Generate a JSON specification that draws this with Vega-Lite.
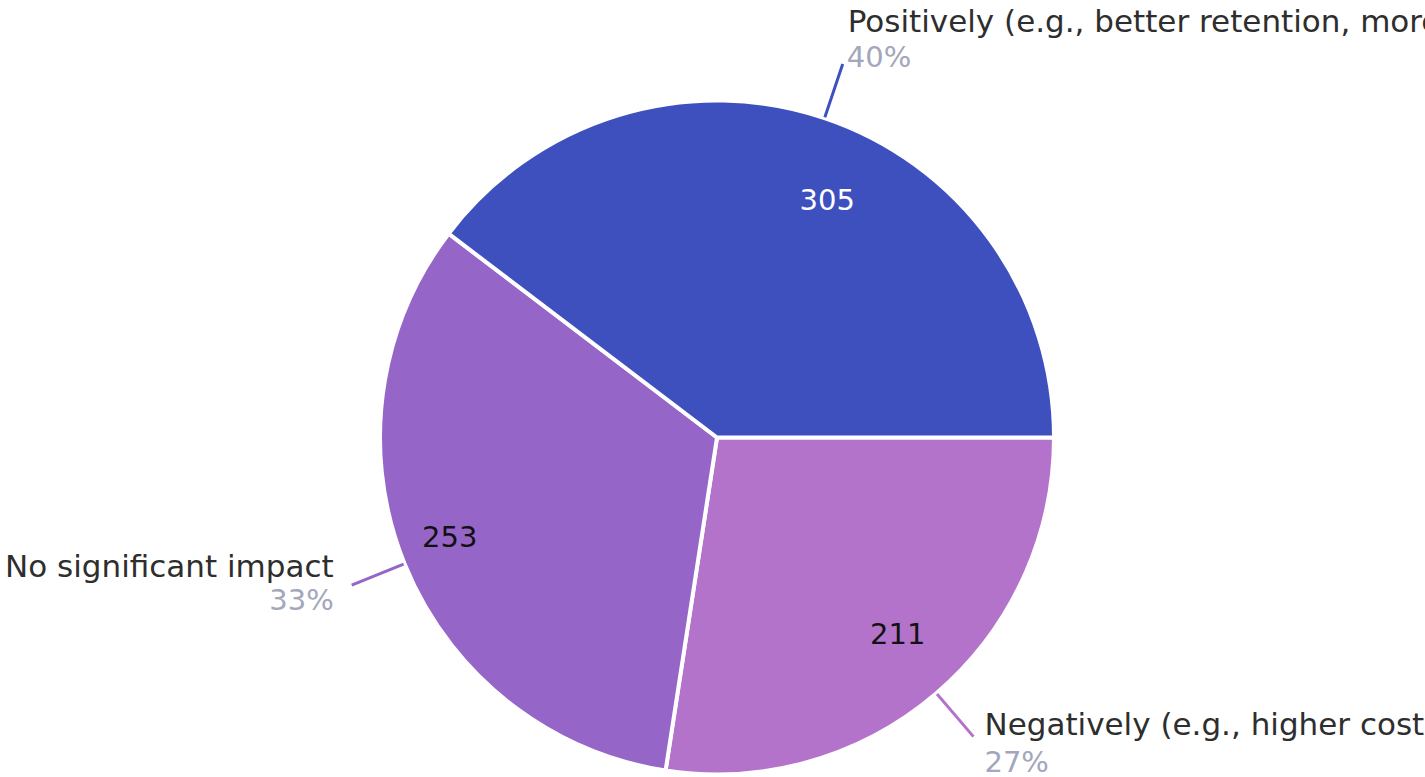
{
  "$schema": "https://vega.github.io/schema/vega-lite/v6.json",
  "width": 1416,
  "height": 675,
  "autosize": "none",
  "padding": {"left": 9, "top": 100, "right": 0, "bottom": 2},
  "background": "white",
  "config": {"view": {"stroke": null}, "font": "DejaVu Sans"},
  "data": {"values": [
    {"key": "neg", "category": "Negatively (e.g., higher costs, reduced engagement)", "count": 211, "pct": "27%", "order": 1},
    {"key": "none", "category": "No significant impact", "count": 253, "pct": "33%", "order": 2},
    {"key": "pos", "category": "Positively (e.g., better retention, more engagement)", "count": 305, "pct": "40%", "order": 3}
  ]},
  "encoding": {
    "theta": {"field": "count", "type": "quantitative", "stack": true, "scale": {"range": [1.5707963, 7.8539816]}},
    "order": {"field": "order", "type": "quantitative", "sort": "ascending"},
    "color": {"field": "key", "type": "nominal", "scale": {"domain": ["pos", "none", "neg"], "range": ["#3E50BE", "#9566C8", "#B373CB"]}, "legend": null}
  },
  "layer": [
    {"mark": {"type": "arc", "outerRadius": 337, "stroke": "white", "strokeWidth": 4}},
    {"mark": {"type": "arc", "innerRadius": 338, "outerRadius": 394, "padAngle": 3.1, "filled": false, "strokeWidth": 3}},
    {"mark": {"type": "text", "radius": 270, "fontSize": 29, "align": "center", "baseline": "alphabetic", "dx": 24, "dy": 28},
     "encoding": {"color": {"value": "white"}, "text": {"condition": {"test": "datum.key === 'pos'", "field": "count", "type": "quantitative"}, "value": ""}}},
    {"mark": {"type": "text", "radius": 270, "fontSize": 29, "align": "center", "baseline": "alphabetic", "dx": -17, "dy": 8},
     "encoding": {"color": {"value": "#111111"}, "text": {"condition": {"test": "datum.key === 'none'", "field": "count", "type": "quantitative"}, "value": ""}}},
    {"mark": {"type": "text", "radius": 270, "fontSize": 29, "align": "center", "baseline": "alphabetic", "dx": 5, "dy": 2},
     "encoding": {"color": {"value": "#111111"}, "text": {"condition": {"test": "datum.key === 'neg'", "field": "count", "type": "quantitative"}, "value": ""}}},
    {"mark": {"type": "text", "radius": 394, "fontSize": 31, "align": "left", "baseline": "alphabetic", "dx": 5, "dy": -32},
     "encoding": {"color": {"value": "#2E2E2E"}, "text": {"condition": {"test": "datum.key === 'pos'", "field": "category"}, "value": ""}}},
    {"mark": {"type": "text", "radius": 394, "fontSize": 29, "align": "left", "baseline": "alphabetic", "dx": 4, "dy": 3},
     "encoding": {"color": {"value": "#A3A7BB"}, "text": {"condition": {"test": "datum.key === 'pos'", "field": "pct"}, "value": ""}}},
    {"mark": {"type": "text", "radius": 394, "fontSize": 31, "align": "left", "baseline": "alphabetic", "dx": 11, "dy": -2},
     "encoding": {"color": {"value": "#2E2E2E"}, "text": {"condition": {"test": "datum.key === 'neg'", "field": "category"}, "value": ""}}},
    {"mark": {"type": "text", "radius": 394, "fontSize": 29, "align": "left", "baseline": "alphabetic", "dx": 11, "dy": 35},
     "encoding": {"color": {"value": "#A3A7BB"}, "text": {"condition": {"test": "datum.key === 'neg'", "field": "pct"}, "value": ""}}},
    {"mark": {"type": "text", "radius": 394, "fontSize": 31, "align": "right", "baseline": "alphabetic", "dx": -18, "dy": -8},
     "encoding": {"color": {"value": "#2E2E2E"}, "text": {"condition": {"test": "datum.key === 'none'", "field": "category"}, "value": ""}}},
    {"mark": {"type": "text", "radius": 394, "fontSize": 29, "align": "right", "baseline": "alphabetic", "dx": -18, "dy": 25},
     "encoding": {"color": {"value": "#A3A7BB"}, "text": {"condition": {"test": "datum.key === 'none'", "field": "pct"}, "value": ""}}}
  ]
}
